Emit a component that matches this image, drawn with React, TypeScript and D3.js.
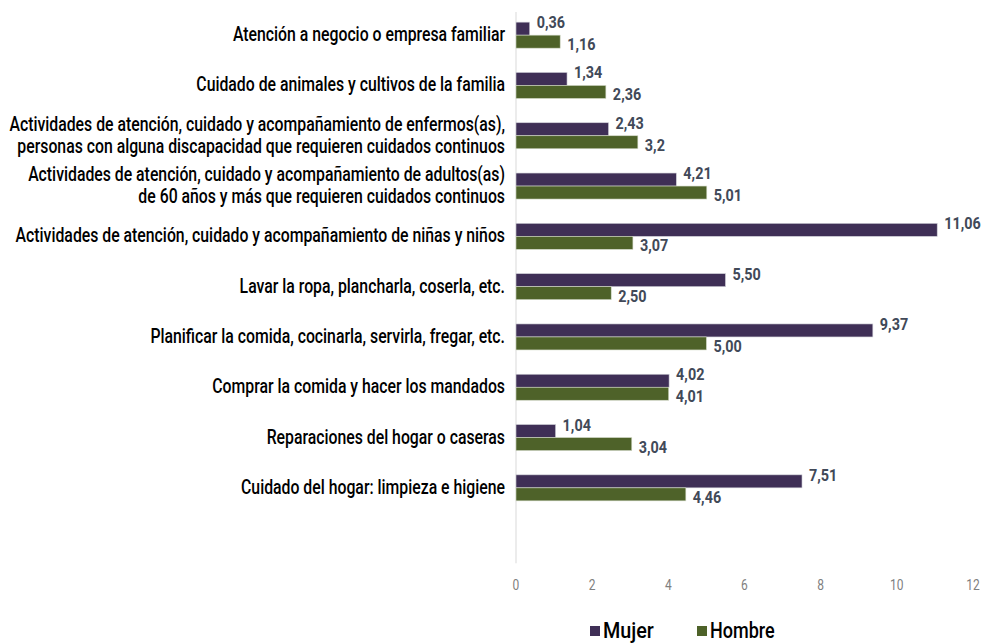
import React from "react";
import * as d3 from "d3";

const categories: string[][] = [
  ["Atención a negocio o empresa familiar"],
  ["Cuidado de animales y cultivos de la familia"],
  ["Actividades de atención, cuidado y acompañamiento de enfermos(as),", "personas con alguna discapacidad que requieren cuidados continuos"],
  ["Actividades de atención, cuidado y acompañamiento de adultos(as)", "de 60 años y más que requieren cuidados continuos"],
  ["Actividades de atención, cuidado y acompañamiento de niñas y niños"],
  ["Lavar la ropa, plancharla, coserla, etc."],
  ["Planificar la comida, cocinarla, servirla, fregar, etc."],
  ["Comprar la comida y hacer los mandados"],
  ["Reparaciones del hogar o caseras"],
  ["Cuidado del hogar: limpieza e higiene"],
];
const mujer = [0.36, 1.34, 2.43, 4.21, 11.06, 5.5, 9.37, 4.02, 1.04, 7.51];
const hombre = [1.16, 2.36, 3.2, 5.01, 3.07, 2.5, 5.0, 4.01, 3.04, 4.46];
const mujerLabels = ["0,36", "1,34", "2,43", "4,21", "11,06", "5,50", "9,37", "4,02", "1,04", "7,51"];
const hombreLabels = ["1,16", "2,36", "3,2", "5,01", "3,07", "2,50", "5,00", "4,01", "3,04", "4,46"];
const ticks = [0, 2, 4, 6, 8, 10, 12];
const series = ["Mujer", "Hombre"];
const colors = ["#3f2f56", "#4e6229"];

const FONT = "Roboto, 'DejaVu Sans', sans-serif";
const SX = 0.79;

function sx(x0: number, s: number) {
  return `translate(${x0},0) scale(${s},1) translate(${-x0},0)`;
}

export default function App() {
  const W = 985, H = 644;
  const x = d3.scaleLinear().domain([0, 12]).range([516, 973]);
  const idx = categories.map((_, i) => String(i));
  const step = 50.3;
  const y = d3.scaleBand().domain(idx).range([10, 10 + step * idx.length]).paddingInner(0).paddingOuter(0);
  const barH = 13;
  const axisBottom = 10 + step * 11;

  return (
    <svg width={W} height={H} style={{ position: "absolute", left: 0, top: 0, background: "#fff" }}>
      <line x1={x(0)} x2={x(0)} y1={12} y2={axisBottom} stroke="#d9d9d9" strokeWidth={1} />
      {categories.map((lines, i) => {
        const c = (y(String(i)) as number) + y.bandwidth() / 2;
        const m0 = c - barH;
        const h0 = c;
        const lm = x(mujer[i]) + 7;
        const lh = x(hombre[i]) + 7;
        return (
          <g key={i}>
            <rect x={x(0)} y={m0} width={x(mujer[i]) - x(0)} height={barH} fill={colors[0]} stroke="#cfcfd8" strokeWidth={0.6} />
            <rect x={x(0)} y={h0} width={x(hombre[i]) - x(0)} height={barH} fill={colors[1]} stroke="#d3d9c8" strokeWidth={0.6} />
            <text x={lm} y={m0 + 6} fontFamily={FONT} fontWeight="bold" fontSize={16} fill="#414958" transform={sx(lm, 0.9)}>{mujerLabels[i]}</text>
            <text x={lh} y={h0 + 15} fontFamily={FONT} fontWeight="bold" fontSize={16} fill="#414958" transform={sx(lh, 0.9)}>{hombreLabels[i]}</text>
            <g transform={`translate(505,0) scale(${SX},1)`}>
              {lines.map((t, j) => (
                <text key={j} x={0} y={c + 6 + (j - (lines.length - 1) / 2) * 22} textAnchor="end" fontFamily={FONT} fontWeight={500} fontSize={20} fill="#000">{t}</text>
              ))}
            </g>
          </g>
        );
      })}
      {ticks.map((t) => (
        <text key={t} x={x(t)} y={590} textAnchor="middle" fontFamily={FONT} fontSize={15} fill="#7f7f7f" transform={sx(x(t), 0.8)}>{t}</text>
      ))}
      <g>
        <rect x={590} y={626} width={10} height={10} fill={colors[0]} />
        <text x={603} y={638} fontFamily={FONT} fontWeight={500} fontSize={22} fill="#000" transform={sx(603, 0.9)}>{series[0]}</text>
        <rect x={697} y={626} width={10} height={10} fill={colors[1]} />
        <text x={710} y={638} fontFamily={FONT} fontWeight={500} fontSize={22} fill="#000" transform={sx(710, 0.82)}>{series[1]}</text>
      </g>
    </svg>
  );
}
